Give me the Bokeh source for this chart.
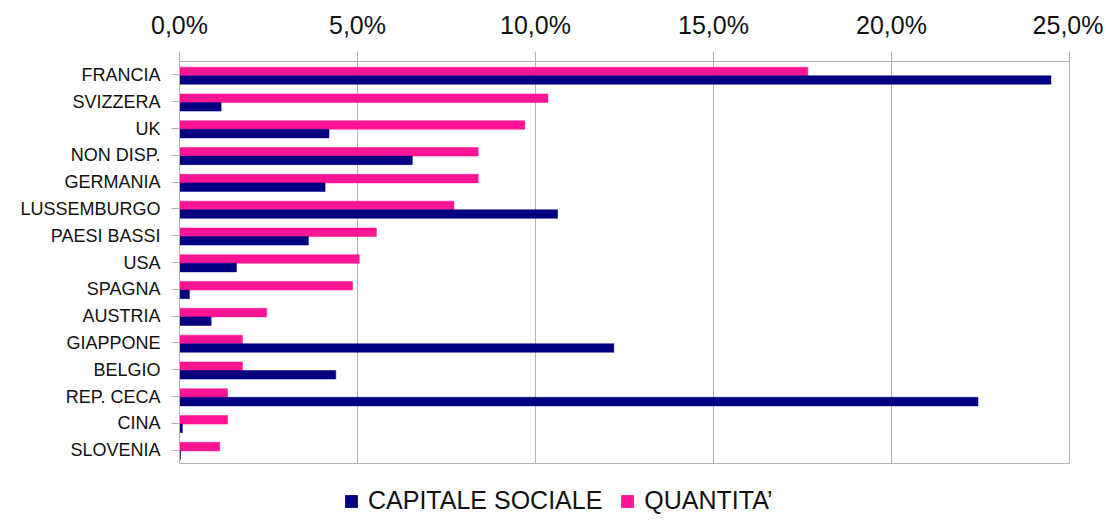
from bokeh.plotting import figure
from bokeh.models import (FactorRange, Range1d, FixedTicker, Legend, LegendItem,
                          ColumnDataSource)
from bokeh.layouts import column
from bokeh.transform import dodge
from bokeh.embed import file_html
from bokeh.resources import INLINE

countries = ["FRANCIA", "SVIZZERA", "UK", "NON DISP.", "GERMANIA", "LUSSEMBURGO",
             "PAESI BASSI", "USA", "SPAGNA", "AUSTRIA", "GIAPPONE", "BELGIO",
             "REP. CECA", "CINA", "SLOVENIA"]
capitale_sociale = [24.48, 1.17, 4.2, 6.54, 4.09, 10.62, 3.62, 1.6, 0.28, 0.89,
                    12.2, 4.39, 22.43, 0.08, 0.03]
quantita = [17.65, 10.35, 9.7, 8.39, 8.39, 7.71, 5.53, 5.05, 4.86, 2.45,
            1.77, 1.77, 1.35, 1.35, 1.13]
x_ticks = [0, 5, 10, 15, 20, 25]
x_tick_labels = ["0,0%", "5,0%", "10,0%", "15,0%", "20,0%", "25,0%"]
series_names = ["CAPITALE SOCIALE", "QUANTITA\u2019"]

NAVY = "#000080"
PINK = "#FF1493"
GRID = "#b3b3b3"
FONT = "Liberation Sans"
TEXT = "#111111"

source = ColumnDataSource(dict(country=countries, cap=capitale_sociale, qty=quantita))

p = figure(width=1103, height=468,
           x_range=Range1d(0, 25),
           y_range=FactorRange(factors=list(reversed(countries))),
           x_axis_location="above",
           output_backend="svg", toolbar_location=None,
           min_border_left=179, min_border_right=34,
           min_border_top=61, min_border_bottom=5)

r_qty = p.hbar(y=dodge("country", 0.13, range=p.y_range), right="qty", left=0,
               height=0.32, source=source, fill_color=PINK, line_color=PINK, line_width=0.5)
r_cap = p.hbar(y=dodge("country", -0.19, range=p.y_range), right="cap", left=0,
               height=0.32, source=source, fill_color=NAVY, line_color=NAVY, line_width=0.5)

# x axis (top)
xa = p.xaxis[0]
xa.ticker = FixedTicker(ticks=x_ticks, minor_ticks=[])
xa.major_label_overrides = {t: l for t, l in zip(x_ticks, x_tick_labels)}
xa.major_label_text_font = FONT
xa.major_label_text_font_size = "25px"
xa.major_label_text_color = TEXT
xa.major_tick_out = 10
xa.major_tick_in = 0
xa.minor_tick_out = 0
xa.minor_tick_in = 0
xa.major_label_standoff = 13
xa.axis_line_color = GRID
xa.major_tick_line_color = GRID

# y axis
ya = p.yaxis[0]
ya.major_label_text_font = FONT
ya.major_label_text_font_size = "18px"
ya.major_label_text_color = TEXT
ya.major_tick_out = 8
ya.major_tick_in = 0
ya.major_label_standoff = 11
ya.axis_line_color = GRID
ya.major_tick_line_color = GRID

p.xgrid.grid_line_color = GRID
p.xgrid.ticker = FixedTicker(ticks=x_ticks)
p.ygrid.grid_line_color = None
p.outline_line_color = GRID
p.outline_line_width = 1
p.background_fill_color = "white"
p.border_fill_color = "white"

# legend strip (frame aligned with the chart above)
pl = figure(width=1103, height=47, x_range=Range1d(0, 1), y_range=Range1d(50, 51),
            x_axis_location=None, y_axis_location=None,
            output_backend="svg", toolbar_location=None, min_border=0)
pl.outline_line_color = None
pl.xgrid.grid_line_color = None
pl.ygrid.grid_line_color = None
# zero-height proxies (nothing visible), only used for the legend swatches
lg_cap = pl.hbar(y="cap", left=0, right="cap", height=0, source=source,
                 fill_color=NAVY, line_alpha=0)
lg_qty = pl.hbar(y="qty", left=0, right="qty", height=0, source=source,
                 fill_color=PINK, line_alpha=0)

legend = Legend(items=[LegendItem(label=series_names[0], renderers=[lg_cap]),
                       LegendItem(label=series_names[1], renderers=[lg_qty])],
                orientation="horizontal", location=(164, 0))
legend.label_text_font = FONT
legend.label_text_font_size = "25px"
legend.label_text_color = TEXT
legend.glyph_width = 16
legend.glyph_height = 16
legend.label_standoff = 9
legend.spacing = 17
legend.padding = 0
legend.margin = 0
legend.border_line_alpha = 0
legend.background_fill_alpha = 0
pl.add_layout(legend, "center")

layout = column(p, pl, spacing=0)

open("out.html", "w").write(file_html(layout, INLINE))
